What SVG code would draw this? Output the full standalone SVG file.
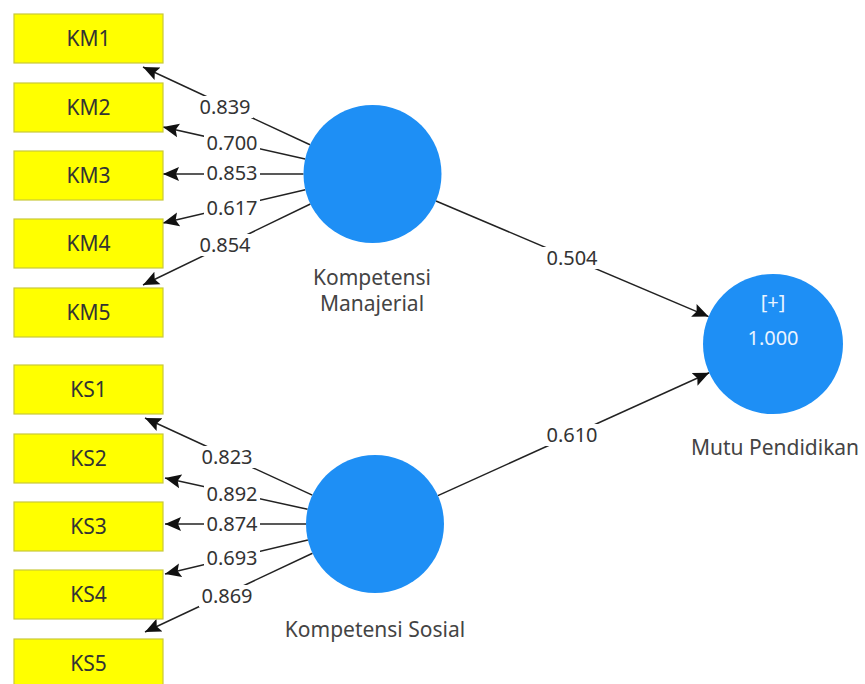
<svg xmlns="http://www.w3.org/2000/svg" width="865" height="684" viewBox="0 0 865 684">
<style>
.box{fill:#ffff00;stroke:#c9c93a;stroke-width:1.2}
.bt{font-family:"Noto Sans","Open Sans",sans-serif;font-size:21px;fill:#333;text-anchor:middle}
.lv{fill:#1e8ff5}
.nl{font-family:"Noto Sans","Open Sans",sans-serif;font-size:21px;fill:#444;text-anchor:middle}
.in{font-family:"Noto Sans","Open Sans",sans-serif;font-size:20px;fill:#eaf4ff;text-anchor:middle}
.ln{stroke:#222;stroke-width:1.5;fill:none;marker-end:url(#ah)}
.lb{fill:#fff}
.wt{font-family:"Noto Sans","Open Sans",sans-serif;font-size:20px;fill:#333;text-anchor:middle}
</style>
<defs>
<marker id="ah" markerUnits="userSpaceOnUse" markerWidth="18" markerHeight="16" refX="16" refY="7" orient="auto" viewBox="0 0 18 14">
<path d="M0,0 L16,7 L0,14 L3,7 Z" fill="#111"/>
</marker>
</defs>
<rect width="865" height="684" fill="#fff"/>
<g id="connectors">
<line class="ln" x1="310" y1="144.8" x2="143" y2="67"/>
<line class="ln" x1="305.2" y1="158.9" x2="163" y2="127"/>
<line class="ln" x1="303.5" y1="174" x2="163" y2="174"/>
<line class="ln" x1="305.3" y1="189.7" x2="163" y2="223"/>
<line class="ln" x1="310.4" y1="204" x2="143" y2="285"/>
<line class="ln" x1="312.3" y1="495.1" x2="145" y2="418"/>
<line class="ln" x1="307.6" y1="509.2" x2="165" y2="478"/>
<line class="ln" x1="306" y1="524" x2="165" y2="524"/>
<line class="ln" x1="307.9" y1="540" x2="165" y2="574"/>
<line class="ln" x1="312.5" y1="553.3" x2="145" y2="632"/>
<line class="ln" x1="436" y1="201" x2="708.6" y2="316.6"/>
<line class="ln" x1="437.9" y1="495.6" x2="709.2" y2="372.8"/>
<g id="weights">
<rect class="lb" x="197" y="96" width="56" height="22"/><text class="wt" x="225" y="114">0.839</text>
<rect class="lb" x="204" y="132" width="56" height="22"/><text class="wt" x="232" y="150">0.700</text>
<rect class="lb" x="204" y="163" width="56" height="22"/><text class="wt" x="232" y="180">0.853</text>
<rect class="lb" x="204" y="197" width="56" height="22"/><text class="wt" x="232" y="215">0.617</text>
<rect class="lb" x="197" y="234" width="56" height="22"/><text class="wt" x="225" y="252">0.854</text>
<rect class="lb" x="199" y="446" width="56" height="22"/><text class="wt" x="227" y="464">0.823</text>
<rect class="lb" x="204" y="483" width="56" height="22"/><text class="wt" x="232" y="501">0.892</text>
<rect class="lb" x="204" y="514" width="56" height="22"/><text class="wt" x="232" y="531">0.874</text>
<rect class="lb" x="204" y="547" width="56" height="22"/><text class="wt" x="232" y="565">0.693</text>
<rect class="lb" x="199" y="585" width="56" height="22"/><text class="wt" x="227" y="603">0.869</text>
<rect class="lb" x="542" y="247" width="60" height="22"/><text class="wt" x="572" y="265">0.504</text>
<rect class="lb" x="542" y="424" width="60" height="22"/><text class="wt" x="572" y="442">0.610</text>
</g>
</g>
<g id="KM1"><rect class="box" x="14" y="14" width="149" height="49"/><text class="bt" x="88.5" y="46">KM1</text></g>
<g id="KM2"><rect class="box" x="14" y="83" width="149" height="49"/><text class="bt" x="88.5" y="115">KM2</text></g>
<g id="KM3"><rect class="box" x="14" y="151" width="149" height="49"/><text class="bt" x="88.5" y="183">KM3</text></g>
<g id="KM4"><rect class="box" x="14" y="219" width="149" height="49"/><text class="bt" x="88.5" y="251">KM4</text></g>
<g id="KM5"><rect class="box" x="14" y="288" width="149" height="49"/><text class="bt" x="88.5" y="320">KM5</text></g>
<g id="KS1"><rect class="box" x="14" y="365" width="149" height="49"/><text class="bt" x="88.5" y="397">KS1</text></g>
<g id="KS2"><rect class="box" x="14" y="434" width="149" height="49"/><text class="bt" x="88.5" y="466">KS2</text></g>
<g id="KS3"><rect class="box" x="14" y="502" width="149" height="49"/><text class="bt" x="88.5" y="534">KS3</text></g>
<g id="KS4"><rect class="box" x="14" y="570" width="149" height="49"/><text class="bt" x="88.5" y="602">KS4</text></g>
<g id="KS5"><rect class="box" x="14" y="639" width="149" height="49"/><text class="bt" x="88.5" y="671">KS5</text></g>
<g id="KompetensiManajerial"><circle class="lv" cx="372.5" cy="174" r="69"/><text class="nl" x="372" y="285">Kompetensi</text><text class="nl" x="372" y="311">Manajerial</text></g>
<g id="KompetensiSosial"><circle class="lv" cx="375" cy="524" r="69"/><text class="nl" x="375" y="637">Kompetensi Sosial</text></g>
<g id="MutuPendidikan"><circle class="lv" cx="773" cy="344" r="70"/><text class="in" x="773" y="309">[+]</text><text class="in" x="773" y="345">1.000</text><text class="nl" x="775" y="455">Mutu Pendidikan</text></g>
</svg>
